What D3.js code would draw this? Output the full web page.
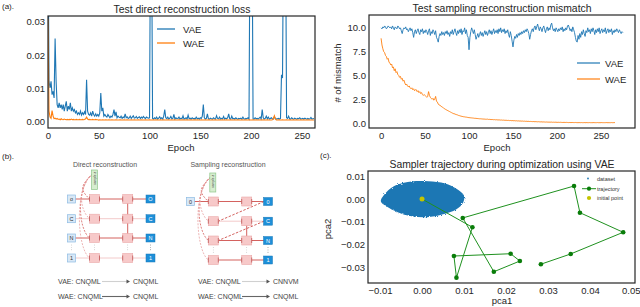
<!DOCTYPE html>
<html>
<head>
<meta charset="utf-8">
<script src="https://cdn.jsdelivr.net/npm/d3@7"></script>
<style>
  body { margin: 0; background: #fff; }
  svg { display: block; font-family: "Liberation Sans", Arial, sans-serif; }
</style>
</head>
<body>
<svg id="fig" width="640" height="307"></svg>
<script>
// ---- (a) left: test direct reconstruction loss, values in 1e-3 units, one per epoch
var vaeLoss = [60,12,10,12,8,9,7,25,12,5,
  4,5.5,4,5,3.5,5,3,4.5,6,3,
  4.5,3.5,5.5,3,4,3,3.5,2.5,3,2,
  2.5,2,3,1.8,2.5,2,2.8,2,12.5,3,
  2,1.8,2.5,1.5,3,2,1.5,2.2,1.5,2,
  1.5,2.5,8.5,3,4,1.5,2,1.5,1.2,2,
  1.5,1,1.5,1.2,2,3.5,1.5,2.8,1,1.5,
  1.2,1,1.5,0.8,1.2,1,2.2,1,1.3,0.8,
  1,1.5,0.8,1.2,1.6,0.9,1,1.4,0.8,1.1,
  1.3,0.8,1.2,0.9,1.4,1,0.8,1.2,1,0.9,
  1,60,60,0.8,0.6,1,0.7,1.2,0.6,0.9,
  1.3,0.7,1,0.6,1.5,3.5,1,0.7,1.2,0.6,
  0.9,1.4,0.7,0.8,2,0.6,1,0.7,0.8,1.2,
  0.6,0.9,0.7,1.6,0.6,0.8,1,0.6,1.8,0.7,
  0.9,0.6,1,0.7,0.8,0.6,1.2,0.7,0.9,0.6,
  1,0.8,1.5,5,1,0.6,0.8,2.2,0.7,0.6,
  0.9,0.7,0.6,1,0.7,0.6,1.6,0.8,0.7,1.2,
  0.6,0.8,0.7,1.4,0.6,0.9,0.7,1,2.2,0.7,
  0.6,1.5,0.7,0.8,0.6,1,0.7,0.6,0.8,0.7,
  0.9,0.6,1.2,0.7,0.6,0.8,0.7,1,0.6,60,
  60,60,0.7,0.6,1,0.7,0.8,0.6,0.9,1.2,
  0.7,3.5,1,0.6,0.8,1.5,0.7,1.2,0.6,0.8,
  1,0.7,0.6,1.3,0.8,0.6,0.7,0.8,0.6,0.8,
  14,13,60,60,60,1,0.8,1.5,0.7,0.6,
  1,0.7,0.6,0.9,0.7,0.6,0.8,0.7,1,0.6,
  0.7,0.8,0.6,0.9,0.7,0.6,0.8,0.6,0.7,1.1,
  0.6,0.7,0.8];
var waeLoss = [31,3,1.2,0.8,3.2,1.5,0.7,0.9,0.6,0.8,
  0.5,0.6,0.4,0.7,0.5,0.4,0.6,0.5,0.4,0.5,
  0.4,0.5,0.4,0.6,0.4,0.5,0.4,0.4,0.5,0.4,
  0.4,0.5,0.4,0.4,0.5,0.4,0.5,0.7,1.2,0.6,
  0.4,0.5,0.4,0.4,0.5,0.4,0.4,0.5,0.4,0.4,
  0.3,0.4,0.3,0.3,0.4,0.3,0.3,0.4,0.3,0.3,
  0.4,0.3,0.3,0.4,0.3,0.3,0.3,0.4,0.3,0.3,
  0.3,0.4,0.3,0.3,0.3,0.4,0.3,0.3,0.4,0.3,
  0.3,0.3,0.4,0.3,0.3,0.4,0.3,0.3,0.3,0.4,
  0.3,0.3,0.4,0.3,0.3,0.3,0.4,0.3,0.3,0.3,
  0.4,0.3,0.3,0.3,0.4,0.3,0.3,0.4,0.3,0.3,
  0.3,0.4,0.3,0.3,0.4,0.3,0.3,0.3,0.4,0.3,
  0.3,0.3,0.4,0.3,0.3,0.4,0.3,0.3,0.3,0.4,
  0.3,0.3,0.4,0.3,0.3,0.3,0.4,0.3,0.3,0.3,
  0.4,0.3,0.3,0.3,0.4,0.3,0.3,0.4,0.3,0.3,
  0.3,0.4,0.3,0.3,0.3,0.4,0.3,0.3,0.4,0.3,
  0.3,0.3,0.4,0.3,0.3,0.4,0.3,0.3,0.3,0.4,
  0.3,0.3,0.4,0.3,0.3,0.3,0.4,0.3,0.3,0.3,
  0.4,0.3,0.3,0.3,0.4,0.3,0.3,0.4,0.3,0.3,
  0.3,0.4,0.3,0.3,0.3,0.4,0.3,0.3,0.4,0.3,
  0.3,0.3,0.4,0.3,0.3,0.4,0.3,0.3,0.3,0.4,
  0.3,0.3,0.4,0.3,0.3,0.3,0.4,0.3,0.3,0.3,
  0.3,0.4,0.8,1.6,0.6,0.3,0.3,0.4,0.3,0.3,
  0.3,0.4,0.3,0.3,0.3,0.4,0.3,0.3,0.4,0.3,
  0.3,0.3,0.4,0.3,0.3,0.4,0.3,0.3,0.3,0.4,
  0.3,0.3,0.4,0.3,0.3,0.3,0.4,0.3,0.3,0.3,
  0.3,0.3,0.3];

// ---- (a) right: test sampling reconstruction mismatch
var vaeMismatch = [10.0,9.9,10.1,10.0,10.2,10.1,9.9,10.0,10.2,10.1,
  10.0,10.1,9.9,10.2,10.0,9.8,10.1,10.0,9.9,10.2,
  10.1,9.9,10.0,9.7,9.4,9.8,10.0,9.9,10.1,9.8,
  9.9,9.6,9.8,10.0,9.7,9.9,9.5,9.0,9.6,9.8,
  9.4,9.7,9.9,9.5,9.3,9.8,9.6,9.9,9.4,9.7,
  9.5,9.8,9.6,9.3,9.7,9.9,9.2,9.6,9.4,9.8,
  9.6,9.3,9.7,9.0,8.8,8.5,9.1,9.4,9.2,9.6,
  9.3,9.5,9.2,9.6,9.4,9.7,9.3,9.5,9.1,9.6,
  9.4,9.8,9.3,9.6,9.9,9.5,9.2,9.7,9.4,9.8,
  9.5,9.9,9.3,9.7,9.6,10.0,9.4,9.8,9.2,9.0,
  7.7,9.0,9.6,10.0,9.7,9.4,9.8,9.3,8.8,9.1,
  9.4,9.0,9.3,9.6,9.2,9.5,9.1,9.4,9.7,9.3,
  9.6,9.2,9.5,9.8,9.4,9.7,9.3,9.6,9.9,9.4,
  9.7,9.5,9.8,9.4,9.9,9.6,10.0,9.5,9.8,9.6,
  9.9,9.4,9.7,9.5,9.8,9.3,9.0,9.6,9.2,8.6,
  8.0,8.7,9.1,8.9,9.3,9.0,9.4,9.2,9.5,9.3,
  9.6,9.4,9.7,9.5,9.8,9.6,9.9,9.7,9.4,8.8,
  9.3,9.7,9.9,9.6,10.0,10.2,9.8,10.1,10.4,10.0,
  9.7,10.1,9.9,9.6,10.0,10.2,9.8,9.5,9.9,10.1,
  9.7,10.0,9.8,10.3,10.5,10.0,9.7,9.9,9.6,10.0,
  9.8,9.6,9.9,9.7,10.0,9.8,10.1,9.6,9.9,9.7,
  10.0,9.8,10.2,10.3,10.0,9.7,9.9,9.6,10.1,9.8,
  9.5,9.0,8.6,8.5,9.2,8.8,9.4,9.0,9.6,9.3,
  9.8,9.4,9.1,9.7,9.5,10.0,9.6,9.8,9.4,9.9,
  9.6,10.0,9.7,9.3,9.8,9.5,9.9,9.6,10.0,9.4,
  9.7,9.9,9.5,9.8,9.6,10.0,9.4,9.7,9.9,9.5,
  9.8,9.6,9.9,9.3,9.7,9.5,9.8,9.6,9.9,9.7,
  9.5,9.8,9.6,9.4,9.6,9.5];
var waeMismatch = [8.9,8.2,7.8,7.5,7.4,7.1,7.0,6.7,6.8,6.4,
  6.3,6.1,6.2,5.8,5.9,5.5,5.7,5.3,5.4,5.1,
  5.0,4.8,4.9,4.6,4.7,4.4,4.5,4.2,4.0,4.1,
  3.9,3.8,3.9,3.7,3.6,3.7,3.5,3.6,3.4,3.5,
  3.5,3.3,3.4,3.2,3.3,3.1,3.2,3.0,2.9,3.0,
  2.9,2.8,2.7,2.8,3.3,2.9,2.7,2.6,2.5,2.6,
  2.4,2.5,2.8,2.3,2.2,2.0,1.9,1.85,1.8,1.7,
  1.65,1.6,1.5,1.45,1.4,1.35,1.3,1.25,1.2,1.15,
  1.1,1.05,1.0,0.98,0.95,0.9,0.88,0.85,0.8,0.78,
  0.75,0.72,0.7,0.68,0.66,0.65,0.63,0.62,0.6,0.58,
  0.57,0.56,0.55,0.54,0.53,0.52,0.5,0.5,0.49,0.48,
  0.47,0.46,0.45,0.45,0.44,0.43,0.42,0.42,0.41,0.4,
  0.40,0.41,0.38,0.39,0.37,0.38,0.36,0.37,0.35,0.36,
  0.34,0.35,0.33,0.34,0.32,0.33,0.31,0.32,0.30,0.31,
  0.29,0.30,0.28,0.29,0.27,0.28,0.26,0.27,0.25,0.26,
  0.25,0.24,0.25,0.23,0.24,0.22,0.23,0.21,0.22,0.21,
  0.20,0.21,0.19,0.20,0.18,0.19,0.18,0.17,0.18,0.16,
  0.17,0.16,0.15,0.16,0.15,0.14,0.15,0.14,0.13,0.14,
  0.13,0.12,0.13,0.12,0.11,0.12,0.11,0.10,0.11,0.10,
  0.10,0.09,0.10,0.09,0.10,0.08,0.09,0.08,0.09,0.08,
  0.08,0.07,0.08,0.07,0.08,0.07,0.06,0.07,0.06,0.07,
  0.06,0.07,0.06,0.05,0.06,0.05,0.06,0.05,0.06,0.05,
  0.05,0.06,0.05,0.04,0.05,0.04,0.05,0.04,0.05,0.04,
  0.04,0.05,0.04,0.04,0.05,0.04,0.04,0.05,0.04,0.04,
  0.04,0.04,0.05,0.04,0.04,0.04,0.05,0.04,0.04,0.04,
  0.04,0.05,0.04,0.04,0.04,0.04,0.05,0.04,0.04,0.04,
  0.04,0.04,0.05,0.04,0.04,0.05,0.04];

// ---- (c): sampler trajectory (pca1, pca2)
var trajX = [0.0000, 0.0120, 0.0082, 0.0076, 0.0211, 0.0233, 0.0171, 0.0097, 0.0362, 0.0376, 0.0479, 0.0354, 0.0283];
var trajY = [0.0000, -0.0124, -0.0345, -0.0250, -0.0240, -0.0272, -0.0319, -0.0083, 0.0057, -0.0060, -0.0146, -0.0241, -0.0286];
// outline of the dense dataset cloud (too many points to read one by one)
var cloudX = [-0.0098, -0.0085, -0.0060, -0.0025, 0.0015, 0.0055, 0.0082, 0.0100, 0.0098, 0.0082, 0.0048, 0.0012, -0.0025, -0.0058, -0.0085];
var cloudY = [-0.0010, 0.0030, 0.0062, 0.0077, 0.0078, 0.0068, 0.0045, 0.0015, -0.0015, -0.0045, -0.0068, -0.0080, -0.0076, -0.0058, -0.0032];

var lossTicksY = [0, 0.01, 0.02, 0.03];
var epochTicks = [0, 50, 100, 150, 200, 250];
var mismatchTicks = [0, 2.5, 5, 7.5, 10];
var pca1Ticks = [-0.01, 0, 0.01, 0.02, 0.03, 0.04, 0.05];
var pca2Ticks = [0.01, 0, -0.01, -0.02, -0.03];

// ---- (b): schematic tokens
var inTokens = ['o', 'C', 'N', '1'];
var outTokens = ['O', 'C', 'N', '1'];
var sampleOut = ['0', 'C', 'N', '1'];

var blue = '#1f77b4', orange = '#ff7f0e', ink = '#262626';
var svg = d3.select('#fig');
var defs = svg.append('defs');

function makeAxes(name, box, xd, yd, xt, yt, xf, yf) {
  var x = d3.scaleLinear().domain(xd).range([box.left, box.right]);
  var y = d3.scaleLinear().domain(yd).range([box.bottom, box.top]);
  var g = svg.append('g');
  defs.append('clipPath').attr('id', 'clip-' + name).append('rect')
      .attr('x', box.left).attr('y', box.top)
      .attr('width', box.right - box.left).attr('height', box.bottom - box.top);
  var xa = g.append('g').attr('transform', 'translate(0,' + box.bottom + ')')
      .call(d3.axisBottom(x).tickValues(xt).tickFormat(xf).tickSize(0).tickPadding(4.5));
  var ya = g.append('g').attr('transform', 'translate(' + box.left + ',0)')
      .call(d3.axisLeft(y).tickValues(yt).tickFormat(yf).tickSize(0).tickPadding(3));
  [xa, ya].forEach(function(a) {
    a.attr('font-size', 9.5).attr('font-family', null).attr('color', ink);
    a.select('.domain').remove();
  });
  var plot = g.append('g').attr('clip-path', 'url(#clip-' + name + ')');
  var frame = g.append('rect')
      .attr('x', box.left).attr('y', box.top)
      .attr('width', box.right - box.left).attr('height', box.bottom - box.top)
      .attr('fill', 'none').attr('stroke', ink).attr('stroke-width', 1.2);
  return {x: x, y: y, g: g, xa: xa, plot: plot, frame: frame, box: box};
}

function label(txt, x, y, size, opts) {
  opts = opts || {};
  var t = svg.append('text').attr('x', x).attr('y', y).attr('font-size', size)
      .attr('fill', opts.fill || ink).attr('text-anchor', opts.anchor || 'start').text(txt);
  if (opts.rotate) t.attr('transform', 'rotate(-90,' + x + ',' + y + ')');
  return t;
}

// ================= (a) left =================
var aL = makeAxes('aL', {left: 48, right: 315, top: 16, bottom: 128},
    [0, 263], [-0.0021, 0.0318], epochTicks, lossTicksY, d3.format('d'), d3.format('.2f'));
var lossLine = d3.line().x(function(d, i) { return aL.x(i); }).y(function(d) { return aL.y(d / 1000); });
aL.plot.append('path').datum(vaeLoss).attr('d', lossLine)
    .attr('fill', 'none').attr('stroke', blue).attr('stroke-width', 1.1);
aL.plot.append('path').datum(waeLoss).attr('d', lossLine)
    .attr('fill', 'none').attr('stroke', orange).attr('stroke-width', 1.1);
aL.frame.raise();
label('Test direct reconstruction loss', 182, 12.5, 10.4, {anchor: 'middle'});
label('Epoch', 181, 150.5, 9.5, {anchor: 'middle'});
[['VAE', blue, 29], ['WAE', orange, 43]].forEach(function(l) {
  svg.append('line').attr('x1', 157).attr('x2', 175).attr('y1', l[2]).attr('y2', l[2])
      .attr('stroke', l[1]).attr('stroke-width', 1.3);
  label(l[0], 183, l[2] + 3.5, 9.5);
});
label('(a).', 2, 9, 8);

// ================= (a) right =================
var aR = makeAxes('aR', {left: 369, right: 635, top: 15, bottom: 128},
    [-13.75, 288.75], [-0.52, 11.35], epochTicks, mismatchTicks, d3.format('d'), d3.format('.1f'));
var misLine = d3.line().x(function(d, i) { return aR.x(i); }).y(function(d) { return aR.y(d); });
aR.plot.append('path').datum(vaeMismatch).attr('d', misLine)
    .attr('fill', 'none').attr('stroke', blue).attr('stroke-width', 0.9);
aR.plot.append('path').datum(waeMismatch).attr('d', misLine)
    .attr('fill', 'none').attr('stroke', orange).attr('stroke-width', 0.9);
aR.frame.raise();
label('Test sampling reconstruction mismatch', 502, 12, 10.4, {anchor: 'middle'});
label('Epoch', 497, 150.5, 9.5, {anchor: 'middle'});
label('# of mismatch', 341, 73, 9.5, {anchor: 'middle', rotate: true});
[['VAE', blue, 63], ['WAE', orange, 79]].forEach(function(l) {
  svg.append('line').attr('x1', 577).attr('x2', 600).attr('y1', l[2]).attr('y2', l[2])
      .attr('stroke', l[1]).attr('stroke-width', 1.2);
  label(l[0], 605, l[2] + 3.5, 9.5);
});

// ================= (c) =================
var c = makeAxes('c', {left: 368, right: 635, top: 171, bottom: 283},
    [-0.01286, 0.05071], [-0.03684, 0.01228], pca1Ticks, pca2Ticks, d3.format('.2f'), d3.format('.2f'));
// last tick label sits on the figure edge: keep it inside
c.xa.selectAll('.tick').filter(function(d) { return d > 0.045; }).select('text')
    .attr('text-anchor', 'end').attr('x', 8);
var rough = defs.append('filter').attr('id', 'rough')
    .attr('x', '-10%').attr('y', '-10%').attr('width', '120%').attr('height', '120%');
rough.append('feTurbulence').attr('type', 'fractalNoise').attr('baseFrequency', 0.9)
    .attr('numOctaves', 2).attr('result', 'n');
rough.append('feDisplacementMap').attr('in', 'SourceGraphic').attr('in2', 'n').attr('scale', 3);
var cloud = d3.zip(cloudX, cloudY);
c.plot.append('path').datum(cloud)
    .attr('d', d3.line().curve(d3.curveCatmullRomClosed)
        .x(function(d) { return c.x(d[0]); }).y(function(d) { return c.y(d[1]); }))
    .attr('fill', blue).attr('filter', 'url(#rough)');
var traj = d3.zip(trajX, trajY);
c.plot.append('path').datum(traj)
    .attr('d', d3.line().x(function(d) { return c.x(d[0]); }).y(function(d) { return c.y(d[1]); }))
    .attr('fill', 'none').attr('stroke', '#1f911f').attr('stroke-width', 1);
c.plot.selectAll('circle.tp').data(traj.slice(1)).enter().append('circle')
    .attr('cx', function(d) { return c.x(d[0]); }).attr('cy', function(d) { return c.y(d[1]); })
    .attr('r', 2.3).attr('fill', '#0a7d0a');
c.plot.append('circle').attr('cx', c.x(trajX[0])).attr('cy', c.y(trajY[0]))
    .attr('r', 2.5).attr('fill', '#c4c400');
c.frame.raise();
label('Sampler trajectory during optimization using VAE', 502, 167.5, 10.4, {anchor: 'middle'});
label('pca1', 502, 304, 9.5, {anchor: 'middle'});
label('pca2', 331, 229, 9.5, {anchor: 'middle', rotate: true});
label('(c).', 320, 158, 8);
svg.append('circle').attr('cx', 588).attr('cy', 178.5).attr('r', 0.9).attr('fill', blue);
label('dataset', 597, 180.5, 5.5, {fill: '#333'});
svg.append('line').attr('x1', 582).attr('x2', 596).attr('y1', 188.7).attr('y2', 188.7)
    .attr('stroke', '#1f911f').attr('stroke-width', 1);
svg.append('circle').attr('cx', 589).attr('cy', 188.7).attr('r', 2.1).attr('fill', '#0a7d0a');
label('trajectory', 597, 190.7, 5.5, {fill: '#333'});
svg.append('circle').attr('cx', 589).attr('cy', 198).attr('r', 2.1).attr('fill', '#c4c400');
label('initial point', 597, 200, 5.5, {fill: '#333'});

// ================= (b) schematic =================
var strong = '#d4625f', light = '#f3caca';

function drawNet(cfg) {
  var g = svg.append('g');
  var col = cfg.cols, row = cfg.rows;
  var pw = 10, ph = 9, bw = 8, bh = 8;
  // links: [fromCol, fromRow, toCol, toRow, style]
  cfg.links.forEach(function(l) {
    var x1 = col[l[0]], y1 = row[l[1]], x2 = col[l[2]], y2 = row[l[3]];
    var s = g.append('line').attr('x1', x1).attr('y1', y1).attr('x2', x2).attr('y2', y2)
        .attr('stroke', l[4] === 'l' ? light : strong).attr('stroke-width', 1);
    if (l[4] === 'd') {
      s.attr('x1', x1 - bw / 2).attr('x2', x2 + pw / 2).attr('stroke-dasharray', '2.5,1.5');
    }
  });
  // dashed curves from latent to first hidden column
  cfg.feed.forEach(function(r, i) {
    var gx = cfg.green.x - 2, gy = cfg.green.y0 + 4;
    var tx = col.p1 - pw / 2, ty = row[r];
    var p = d3.path();
    p.moveTo(gx, gy);
    p.bezierCurveTo(gx - 12 - 2 * i, gy + 12, tx - 10 - i, ty - 10, tx, ty);
    g.append('path').attr('d', p.toString()).attr('fill', 'none')
        .attr('stroke', i % 2 ? '#e9a3a3' : strong).attr('stroke-width', 0.8)
        .attr('stroke-dasharray', '2,1.3');
  });
  // vertical ellipses between the third and the fourth row
  cfg.dotCols.forEach(function(k) {
    [0, 1, 2].forEach(function(j) {
      g.append('circle').attr('cx', col[k]).attr('cy', row[2] + 7 + j * 2.4)
          .attr('r', 0.45).attr('fill', k === 'out' ? '#555' : '#aaa');
    });
  });
  // hidden units
  ['p1', 'p2'].forEach(function(k) {
    row.forEach(function(ry) {
      g.append('rect').attr('x', col[k] - pw / 2).attr('y', ry - ph / 2)
          .attr('width', pw).attr('height', ph)
          .attr('fill', '#f7c9c9').attr('stroke', '#eba9a9').attr('stroke-width', 0.6);
      [-1, 1].forEach(function(sgn) {
        g.append('line').attr('x1', col[k] + sgn * pw / 2).attr('x2', col[k] + sgn * pw / 2)
            .attr('y1', ry - 2.5).attr('y2', ry + 2.5).attr('stroke', '#b94848').attr('stroke-width', 0.7);
      });
    });
  });
  // input tokens
  cfg.inputs.forEach(function(t, i) {
    g.append('rect').attr('x', col.in - bw / 2).attr('y', row[i] - bh / 2)
        .attr('width', bw).attr('height', bh)
        .attr('fill', '#d9e8f6').attr('stroke', '#8dbbe3').attr('stroke-width', 0.7);
    g.append('text').attr('x', col.in).attr('y', row[i] + 2).attr('font-size', 5.5)
        .attr('text-anchor', 'middle').attr('fill', '#333').text(t);
  });
  // output tokens
  cfg.outputs.forEach(function(t, i) {
    g.append('rect').attr('x', col.out - bw / 2 - 0.5).attr('y', row[i] - bh / 2)
        .attr('width', bw + 1).attr('height', bh)
        .attr('fill', '#1d8fd8').attr('stroke', '#1a78b8').attr('stroke-width', 0.5);
    g.append('text').attr('x', col.out).attr('y', row[i] + 2).attr('font-size', 5.5)
        .attr('text-anchor', 'middle').attr('fill', '#fff').text(t);
  });
  // latent box
  var gr = cfg.green;
  g.append('rect').attr('x', gr.x - 3).attr('y', gr.y0).attr('width', 6).attr('height', gr.y1 - gr.y0)
      .attr('fill', '#d6edcf').attr('stroke', '#8fc78a').attr('stroke-width', 0.7);
  g.append('text').attr('x', gr.x + 1).attr('y', gr.y0 + 2).attr('font-size', 3.2)
      .attr('fill', '#444').attr('text-anchor', 'end')
      .attr('transform', 'rotate(-90,' + (gr.x + 1) + ',' + (gr.y0 + 2) + ')')
      .text('sample z');
  label(cfg.title, cfg.titleX, 166.5, 7, {anchor: 'middle', fill: '#555'});
}

function drawMap(x0, y, src, dst, dark) {
  label(src, x0, y, 7, {fill: '#444'});
  var ax0 = x0 + 44, ax1 = x0 + 72;
  svg.append('line').attr('x1', ax0).attr('x2', ax1 - 3).attr('y1', y - 2.5).attr('y2', y - 2.5)
      .attr('stroke', dark ? '#666' : '#d0d0d0').attr('stroke-width', 1.1);
  svg.append('path').attr('d', 'M' + (ax1 - 3.5) + ',' + (y - 4.5) + 'L' + ax1 + ',' + (y - 2.5) + 'L' + (ax1 - 3.5) + ',' + (y - 0.5) + 'Z')
      .attr('fill', '#555');
  label(dst, ax1 + 3, y, 7, {fill: '#444'});
}

drawNet({
  title: 'Direct reconstruction', titleX: 105,
  cols: {in: 71.5, p1: 94.5, p2: 127.7, out: 150.5},
  rows: [199, 218.7, 238, 258],
  green: {x: 94.5, y0: 170, y1: 189.5},
  inputs: inTokens, outputs: outTokens,
  links: [['in', 0, 'p1', 0, 's'], ['p1', 0, 'p2', 0, 's'], ['p2', 0, 'out', 0, 's'],
          ['in', 1, 'p1', 1, 'l'], ['p1', 1, 'p2', 1, 'l'], ['p2', 1, 'out', 1, 'l'],
          ['in', 2, 'p1', 2, 's'], ['p1', 2, 'p2', 2, 's'], ['p2', 2, 'out', 2, 's'],
          ['in', 3, 'p1', 3, 'l'], ['p1', 3, 'p2', 3, 'l'], ['p2', 3, 'out', 3, 'l'],
          ['p2', 0, 'p2', 2, 's']],
  feed: [0, 1, 2, 3],
  dotCols: ['in', 'p1', 'p2', 'out']
});
drawNet({
  title: 'Sampling reconstruction', titleX: 228,
  cols: {in: 190.5, p1: 213.3, p2: 246.7, out: 268},
  rows: [201.5, 221.2, 240.5, 260],
  green: {x: 212.8, y0: 173, y1: 192},
  inputs: ['0'], outputs: sampleOut,
  links: [['in', 0, 'p1', 0, 's'], ['p1', 0, 'p2', 0, 's'], ['p2', 0, 'out', 0, 's'],
          ['p1', 1, 'p2', 1, 'l'], ['p2', 1, 'out', 1, 'l'],
          ['p1', 2, 'p2', 2, 's'], ['p2', 2, 'out', 2, 's'],
          ['p1', 3, 'p2', 3, 's'], ['p2', 3, 'out', 3, 's'],
          ['p2', 1, 'p2', 2, 's'],
          ['out', 0, 'p1', 1, 'd'], ['out', 1, 'p1', 2, 'd']],
  feed: [0, 1, 2, 3],
  dotCols: ['p1', 'p2', 'out']
});
label('(b).', 2, 159, 8);

drawMap(58, 284, 'VAE:  CNQML', 'CNQML', false);
drawMap(58, 299, 'WAE: CNQML', 'CNQML', true);
drawMap(198, 284, 'VAE:  CNQML', 'CNNVM', false);
drawMap(198, 299, 'WAE: CNQML', 'CNQML', true);
</script>
</body>
</html>
